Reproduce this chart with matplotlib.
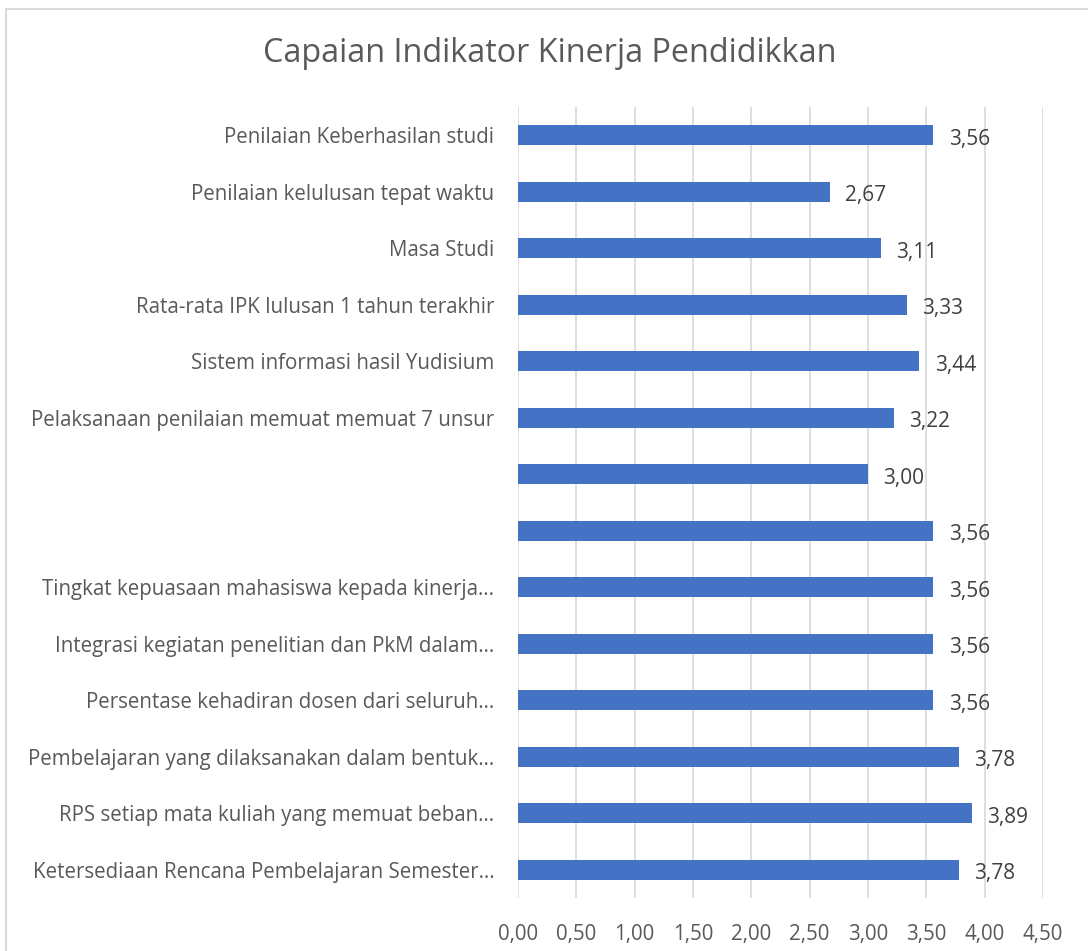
import numpy as np
import matplotlib.pyplot as plt
from matplotlib.patches import Rectangle

# data (top to bottom as in the chart)
kategori = [
    "Penilaian Keberhasilan studi",
    "Penilaian kelulusan tepat waktu",
    "Masa Studi",
    "Rata-rata IPK lulusan 1 tahun terakhir",
    "Sistem informasi hasil Yudisium",
    "Pelaksanaan penilaian memuat memuat 7 unsur",
    "",
    "",
    "Tingkat kepuasaan mahasiswa kepada kinerja…",
    "Integrasi kegiatan penelitian dan PkM dalam…",
    "Persentase kehadiran dosen dari seluruh…",
    "Pembelajaran yang dilaksanakan dalam bentuk…",
    "RPS setiap mata kuliah yang memuat beban…",
    "Ketersediaan Rencana Pembelajaran Semester…",
]
nilai = [3.56, 2.67, 3.11, 3.33, 3.44, 3.22, 3.00, 3.56, 3.56, 3.56, 3.56, 3.78, 3.89, 3.78]
x_ticks = np.arange(0, 4.51, 0.5)

plt.rcParams['font.family'] = ['Open Sans', 'DejaVu Sans']
abu = '#595959'

fig = plt.figure(figsize=(10.88, 9.51), dpi=100)
fig.patches.append(Rectangle((6 / 1088, -0.01), 1.1, 1 - 9 / 951 + 0.01,
                             transform=fig.transFigure, fill=False,
                             edgecolor='#D9D9D9', linewidth=1.5))

ax = fig.add_axes([518 / 1088, 1 - 898 / 951, 525 / 1088, 791 / 951])

y = np.arange(len(nilai))[::-1]
ax.barh(y, nilai, height=0.36, color='#4472C4', zorder=3)

for yy, v in zip(y, nilai):
    ax.annotate(f"{v:.2f}".replace('.', ','), (v, yy), xytext=(11, -3),
                textcoords='offset points', va='center', ha='left',
                fontsize=15, color='#404040')

ax.set_xlim(0, 4.5)
ax.set_ylim(-0.5, len(nilai) - 0.5)
ax.set_xticks(x_ticks)
ax.set_xticklabels([f"{t:.2f}".replace('.', ',') for t in x_ticks])
ax.set_yticks(y)
ax.set_yticklabels(kategori)
ax.tick_params(axis='both', length=0, labelsize=14.8, colors=abu)
ax.tick_params(axis='x', pad=19)
ax.tick_params(axis='y', pad=17)
ax.grid(axis='x', color='#D9D9D9', linewidth=1.2, zorder=0)
for s in ax.spines.values():
    s.set_visible(False)

fig.text(550 / 1088, 1 - 54 / 951, "Capaian Indikator Kinerja Pendidikkan",
         ha='center', va='center', fontsize=23.3, color=abu)

fig.savefig('out.png', dpi=100)
